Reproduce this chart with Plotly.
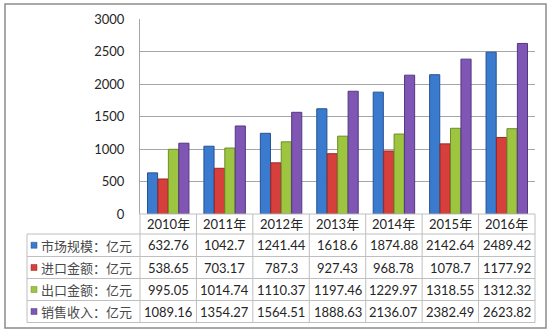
import plotly.graph_objects as go

years = ["2010年", "2011年", "2012年", "2013年", "2014年", "2015年", "2016年"]
series_names = ["市场规模：亿元", "进口金额：亿元", "出口金额：亿元", "销售收入：亿元"]
market = [632.76, 1042.7, 1241.44, 1618.6, 1874.88, 2142.64, 2489.42]
imports = [538.65, 703.17, 787.3, 927.43, 968.78, 1078.7, 1177.92]
exports = [995.05, 1014.74, 1110.37, 1197.46, 1229.97, 1318.55, 1312.32]
sales = [1089.16, 1354.27, 1564.51, 1888.63, 2136.07, 2382.49, 2623.82]
value_labels = [
    ["632.76", "1042.7", "1241.44", "1618.6", "1874.88", "2142.64", "2489.42"],
    ["538.65", "703.17", "787.3", "927.43", "968.78", "1078.7", "1177.92"],
    ["995.05", "1014.74", "1110.37", "1197.46", "1229.97", "1318.55", "1312.32"],
    ["1089.16", "1354.27", "1564.51", "1888.63", "2136.07", "2382.49", "2623.82"],
]
y_ticks = [0, 500, 1000, 1500, 2000, 2500, 3000]

series = [market, imports, exports, sales]
colors = ["#3B7BCF", "#D63F3B", "#9DC53F", "#7F56B3"]
edges = ["#24528F", "#962826", "#6C8C25", "#533880"]

W, H = 554, 336
L, R, T, B = 140, 535, 19, 214
pw, ph = R - L, B - T


def px(x):
    return (x - L) / pw


def py(y):
    return (B - y) / ph


fig = go.Figure()
for name, vals, c, e in zip(series_names, series, colors, edges):
    fig.add_trace(go.Bar(
        x=list(range(len(years))), y=vals, name=name,
        marker=dict(color=c, line=dict(color=e, width=1)),
        showlegend=False,
    ))

shapes = []
annotations = []
grid = "#BFBFBF"
n = len(years)
colw = pw / n
col_edges = [L + i * colw for i in range(n + 1)]
row_edges = [214, 234, 256.5, 278.5, 300.5, 322.5]
tbl_left = 27

# horizontal lines of table
for i, yy in enumerate(row_edges):
    x0 = L if i == 0 else tbl_left
    shapes.append(dict(type="line", xref="paper", yref="paper",
                       x0=px(x0), x1=px(R), y0=py(yy), y1=py(yy),
                       line=dict(color=grid, width=1)))
# vertical lines
shapes.append(dict(type="line", xref="paper", yref="paper",
                   x0=px(tbl_left), x1=px(tbl_left), y0=py(row_edges[1]), y1=py(row_edges[-1]),
                   line=dict(color=grid, width=1)))
for xx in col_edges:
    shapes.append(dict(type="line", xref="paper", yref="paper",
                       x0=px(xx), x1=px(xx), y0=py(row_edges[0]), y1=py(row_edges[-1]),
                       line=dict(color=grid, width=1)))
# outer border
shapes.append(dict(type="rect", xref="paper", yref="paper",
                   x0=px(5), x1=px(546), y0=py(4), y1=py(328),
                   line=dict(color="#8C8C8C", width=1.5), layer="below"))

font_num = dict(family="Lato, 'Noto Sans CJK SC'", size=13, color="#262626")
font_cjk = dict(family="'Noto Sans CJK SC'", size=13, color="#4A4A4A")

# header
for i, yr in enumerate(years):
    annotations.append(dict(x=i, xref="x", y=py((row_edges[0] + row_edges[1]) / 2), yref="paper",
                            text=yr, showarrow=False, font=font_num,
                            xanchor="center", yanchor="middle"))
# rows
for r in range(len(series)):
    yc = py((row_edges[r + 1] + row_edges[r + 2]) / 2)
    shapes.append(dict(type="rect", xref="paper", yref="paper",
                       x0=px(31), x1=px(37), y0=yc - 3 / ph, y1=yc + 3 / ph,
                       fillcolor=colors[r], line=dict(color=edges[r], width=0.5)))
    annotations.append(dict(x=px(38.5), xref="paper", y=yc, yref="paper",
                            text=series_names[r], showarrow=False, font=font_cjk,
                            xanchor="left", yanchor="middle"))
    for i, lab in enumerate(value_labels[r]):
        annotations.append(dict(x=i, xref="x", y=yc, yref="paper",
                                text=lab, showarrow=False, font=font_num,
                                xanchor="center", yanchor="middle"))

fig.update_layout(
    width=W, height=H,
    margin=dict(l=L, r=W - R, t=T, b=H - B, pad=0),
    paper_bgcolor="white", plot_bgcolor="white",
    barmode="group", bargap=0.26, bargroupgap=0.03,
    shapes=shapes, annotations=annotations,
    xaxis=dict(range=[-0.5, n - 0.5], showticklabels=False, showgrid=False,
               zeroline=False, showline=False, ticks=""),
    yaxis=dict(range=[0, 3000], tickvals=y_ticks, showgrid=True, gridcolor="#A6A6A6",
               gridwidth=1, zeroline=False, showline=True, linecolor="#A6A6A6",
               ticks="", ticklabelstandoff=12,
               tickfont=dict(family="Lato, 'Noto Sans CJK SC'", size=13, color="#262626")),
)

fig.write_html("out.html")
